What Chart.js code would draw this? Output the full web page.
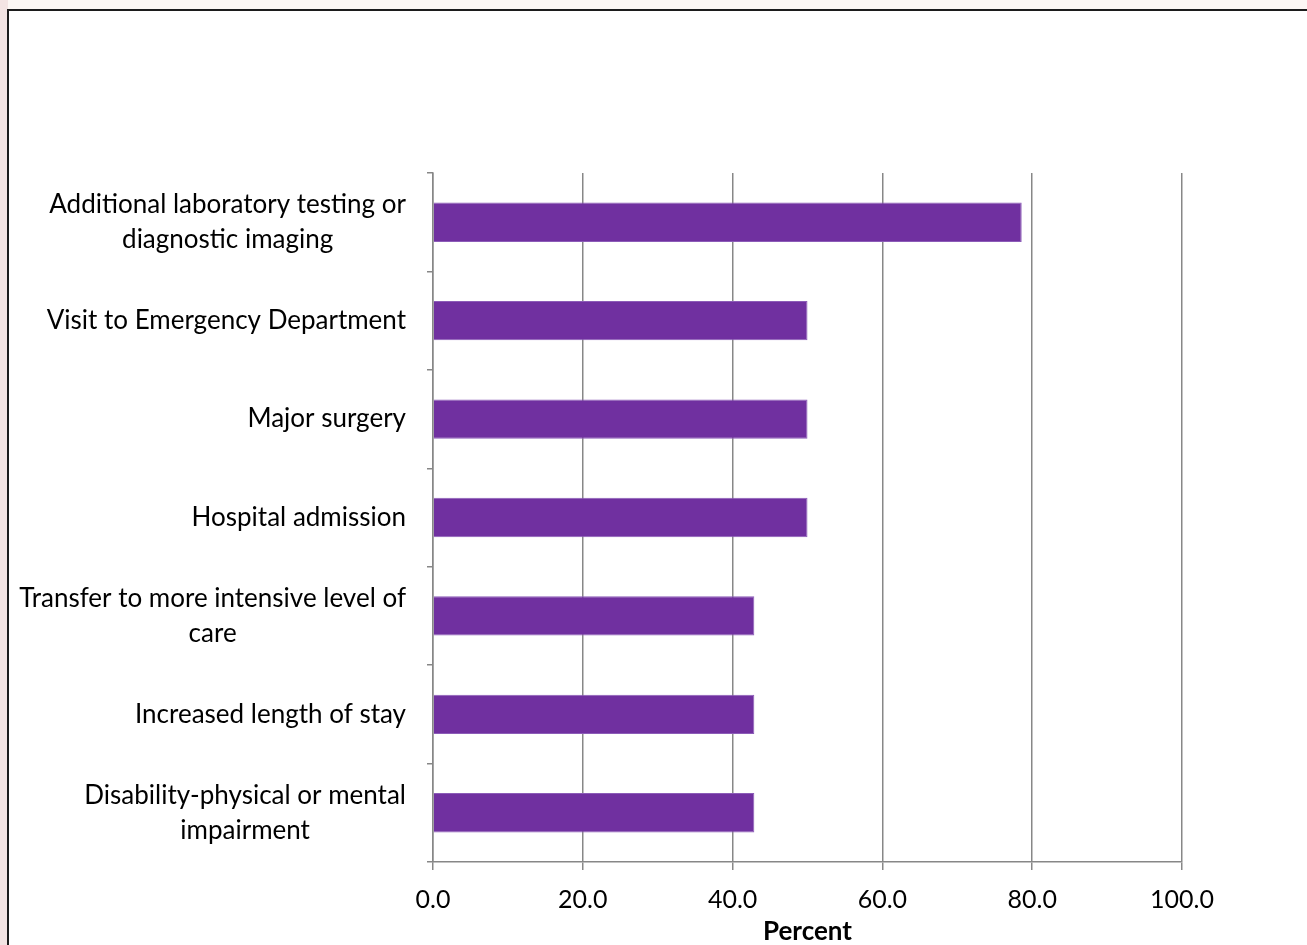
<!DOCTYPE html>
<html>
<head>
<meta charset="utf-8">
<script src="https://cdn.jsdelivr.net/npm/chart.js@4"></script>
<style>
  html, body { margin: 0; padding: 0; width: 1307px; height: 945px; overflow: hidden; background: #fcf7f4; }
  #leftstrip { position: absolute; left: 0; top: 0; width: 8px; height: 945px; background: #f3e4e3; }
  #frame { position: absolute; left: 7px; top: 9px; width: 1320px; height: 960px; border-left: 2px solid #1c1c1c; border-top: 2px solid #1c1c1c; background: #ffffff; }
  #c { position: absolute; left: 0; top: 0; }
</style>
</head>
<body>
<div id="leftstrip"></div>
<div id="frame"></div>
<canvas id="c" width="1307" height="945"></canvas>
<script>
const categories = [
  ["Additional laboratory testing or", "diagnostic imaging"],
  ["Visit to Emergency Department"],
  ["Major surgery"],
  ["Hospital admission"],
  ["Transfer to more intensive level of", "care"],
  ["Increased length of stay"],
  ["Disability-physical or mental", "impairment"]
];
const percentValues = [78.6, 50.0, 50.0, 50.0, 42.9, 42.9, 42.9];
const xTickMin = 0;
const xTickMax = 100;
const xTickStep = 20;
const xAxisTitle = "Percent";

const FONT = "Lato";
const GRID = "#878787";

const yLabelPlugin = {
  id: "yLabels",
  afterDraw(chart) {
    const ctx = chart.ctx;
    const y = chart.scales.y;
    const rightEdge = y.right - 27;
    const lineH = 35;
    ctx.save();
    ctx.font = "26px " + FONT;
    ctx.fillStyle = "#000000";
    ctx.textAlign = "center";
    ctx.textBaseline = "middle";
    categories.forEach((lines, i) => {
      const w = Math.max(...lines.map(l => ctx.measureText(l).width));
      const cx = rightEdge - w / 2;
      const cy = y.getPixelForValue(i);
      lines.forEach((l, j) => {
        ctx.fillText(l, cx, cy + (j - (lines.length - 1) / 2) * lineH);
      });
    });
    ctx.restore();
  }
};

new Chart(document.getElementById("c"), {
  type: "bar",
  data: {
    labels: categories,
    datasets: [{
      data: percentValues,
      backgroundColor: "#7030A0",
      borderColor: "#8c5cb8",
      borderWidth: 1,
      barPercentage: 0.4,
      categoryPercentage: 1.0
    }]
  },
  options: {
    indexAxis: "y",
    responsive: false,
    animation: false,
    layout: { padding: { top: 173, right: 125, left: 0, bottom: 0 } },
    plugins: { legend: { display: false }, tooltip: { enabled: false }, title: { display: false } },
    scales: {
      x: {
        min: xTickMin,
        max: xTickMax,
        afterFit(s) { s.height = 83; },
        ticks: {
          stepSize: xTickStep,
          callback: v => Number(v).toFixed(1),
          color: "#000000",
          font: { family: FONT, size: 25 },
          padding: 15
        },
        grid: { color: GRID, lineWidth: 1.5, tickLength: 8, drawTicks: true },
        border: { color: GRID, width: 1.5 },
        title: {
          display: true,
          text: xAxisTitle,
          color: "#000000",
          font: { family: FONT, size: 26, weight: "bold", lineHeight: 1.0 },
          padding: { top: 0, bottom: 0 }
        }
      },
      y: {
        afterFit(s) { s.width = 433; },
        ticks: { display: false },
        grid: { color: GRID, lineWidth: 1.5, drawOnChartArea: false, drawTicks: true, tickLength: 6, offset: true },
        border: { color: GRID, width: 1.5 }
      }
    }
  },
  plugins: [yLabelPlugin]
});
</script>
</body>
</html>
